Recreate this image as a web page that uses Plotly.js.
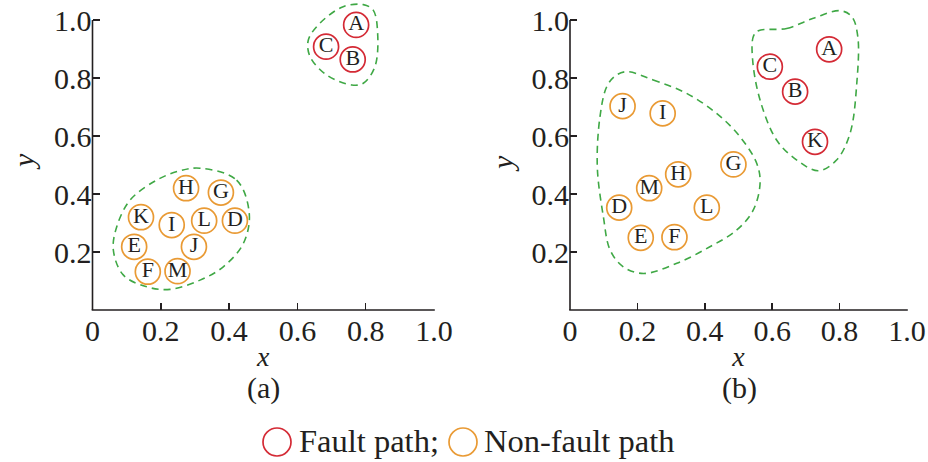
<!DOCTYPE html>
<html>
<head>
<meta charset="utf-8">
<script src="https://cdn.plot.ly/plotly-3.0.1.min.js"></script>
<style>html,body{margin:0;padding:0;background:#fff;}#chart{width:928px;height:462px;}</style>
</head>
<body>
<div id="chart"></div>
<script>
// ---------- data: panel (a) ----------
const faultLabelsA = ['A', 'B', 'C'];
const faultXA = [0.772, 0.762, 0.684];
const faultYA = [0.983, 0.864, 0.908];
const normalLabelsA = ['D', 'E', 'F', 'G', 'H', 'I', 'J', 'K', 'L', 'M'];
const normalXA = [0.417, 0.122, 0.162, 0.376, 0.274, 0.232, 0.297, 0.142, 0.327, 0.249];
const normalYA = [0.308, 0.218, 0.132, 0.405, 0.420, 0.293, 0.218, 0.320, 0.308, 0.134];
// cluster boundaries (a)
const boundFaultXA = [0.822, 0.835, 0.827, 0.793, 0.759, 0.686, 0.637, 0.632, 0.666, 0.734, 0.793, 0.822];
const boundFaultYA = [1.034, 0.954, 0.839, 0.782, 0.776, 0.810, 0.874, 0.931, 0.989, 1.046, 1.053, 1.034];
const boundNormalXA = [0.315, 0.422, 0.459, 0.442, 0.383, 0.315, 0.227, 0.159, 0.090, 0.061, 0.071, 0.110, 0.188, 0.256, 0.315];
const boundNormalYA = [0.489, 0.448, 0.333, 0.230, 0.149, 0.103, 0.071, 0.080, 0.121, 0.207, 0.287, 0.379, 0.448, 0.480, 0.489];

// ---------- data: panel (b) ----------
const faultLabelsB = ['A', 'B', 'C', 'K'];
const faultXB = [0.769, 0.668, 0.593, 0.727];
const faultYB = [0.899, 0.753, 0.839, 0.580];
const normalLabelsB = ['D', 'E', 'F', 'G', 'H', 'I', 'J', 'L', 'M'];
const normalXB = [0.146, 0.210, 0.310, 0.485, 0.321, 0.275, 0.156, 0.406, 0.235];
const normalYB = [0.353, 0.249, 0.251, 0.502, 0.468, 0.678, 0.703, 0.353, 0.420];
// cluster boundaries (b)
const boundFaultXB = [0.559, 0.643, 0.722, 0.801, 0.836, 0.854, 0.851, 0.831, 0.791, 0.737, 0.673, 0.613, 0.564, 0.542, 0.544, 0.559];
const boundFaultYB = [0.963, 0.971, 1.006, 1.032, 1.012, 0.943, 0.782, 0.609, 0.517, 0.480, 0.517, 0.586, 0.724, 0.862, 0.943, 0.963];
const boundNormalXB = [0.168, 0.247, 0.346, 0.435, 0.504, 0.554, 0.564, 0.544, 0.495, 0.415, 0.317, 0.218, 0.158, 0.119, 0.099, 0.081, 0.089, 0.109, 0.134, 0.168];
const boundNormalYB = [0.822, 0.793, 0.747, 0.678, 0.598, 0.506, 0.437, 0.345, 0.276, 0.218, 0.161, 0.126, 0.149, 0.207, 0.322, 0.494, 0.667, 0.770, 0.807, 0.822];

// ---------- tick labels / texts ----------
const xTickVals = [0, 0.2, 0.4, 0.6, 0.8, 1.0];
const xTickText = ['0', '0.2', '0.4', '0.6', '0.8', '1.0'];
const yTickVals = [0.2, 0.4, 0.6, 0.8, 1.0];
const yTickText = ['0.2', '0.4', '0.6', '0.8', '1.0'];
const xTitle = 'x';
const yTitle = 'y';
const panelLabels = ['(a)', '(b)'];
const legendNames = ['Fault path;', 'Non-fault path'];

// ---------- styles ----------
const FONT = '"Liberation Serif", "Times New Roman", serif';
const TXT = '#231f20';
const RED = '#d42a35';
const ORANGE = '#e99a34';
const GREEN = '#3fa845';

function pts(x, y, labels, color, xa, ya, name) {
  return {
    type: 'scatter', mode: 'markers+text', x: x, y: y, text: labels, name: name,
    xaxis: xa, yaxis: ya, showlegend: false, cliponaxis: false,
    textposition: 'middle center',
    textfont: {family: FONT, size: 22, color: TXT},
    marker: {symbol: 'circle-open', size: 25, color: color, line: {width: 1.7, color: color}}
  };
}
function bound(x, y, xa, ya) {
  return {
    type: 'scatter', mode: 'lines', x: x, y: y, xaxis: xa, yaxis: ya, showlegend: false,
    line: {color: GREEN, width: 1.6, dash: '7px,5px', shape: 'spline', smoothing: 1.0},
    hoverinfo: 'skip'
  };
}

const data = [
  bound(boundFaultXA, boundFaultYA, 'x', 'y'),
  bound(boundNormalXA, boundNormalYA, 'x', 'y'),
  pts(faultXA, faultYA, faultLabelsA, RED, 'x', 'y', legendNames[0]),
  pts(normalXA, normalYA, normalLabelsA, ORANGE, 'x', 'y', legendNames[1]),
  bound(boundFaultXB, boundFaultYB, 'x2', 'y2'),
  bound(boundNormalXB, boundNormalYB, 'x2', 'y2'),
  pts(faultXB, faultYB, faultLabelsB, RED, 'x2', 'y2', legendNames[0]),
  pts(normalXB, normalYB, normalLabelsB, ORANGE, 'x2', 'y2', legendNames[1])
];

const W = 928, H = 462;
const yDom = [1 - 310 / H, 1 - 1.15 / H];
const xDomA = [92.5 / W, 434 / W];
const xDomB = [570 / W, 907 / W];

function xAxis(dom, anchor) {
  return {
    domain: dom, anchor: anchor, range: [0, 1], showgrid: false, zeroline: false,
    showline: false, ticks: 'inside', ticklen: 7, tickwidth: 1.5, tickcolor: TXT,
    tickvals: xTickVals, ticktext: xTickText,
    tickfont: {family: FONT, size: 30, color: TXT},
    title: {text: '<i>' + xTitle + '</i>', font: {family: FONT, size: 28, color: TXT}, standoff: 0}
  };
}
function yAxis(anchor) {
  return {
    domain: yDom, anchor: anchor, range: [0, 1.065], showgrid: false, zeroline: false,
    showline: false, ticks: 'inside', ticklen: 7, tickwidth: 1.5, tickcolor: TXT,
    tickvals: yTickVals, ticktext: yTickText,
    tickfont: {family: FONT, size: 30, color: TXT}
  };
}

const axisLine = {color: TXT, width: 1.6};
const shapes = [
  // y axis lines (stop at 1.0)
  {type: 'line', xref: 'paper', yref: 'y', x0: xDomA[0], x1: xDomA[0], y0: 0, y1: 1, line: axisLine},
  {type: 'line', xref: 'paper', yref: 'y2', x0: xDomB[0], x1: xDomB[0], y0: 0, y1: 1, line: axisLine},
  // x axis lines
  {type: 'line', xref: 'paper', yref: 'paper', x0: xDomA[0] - 0.8 / W, x1: xDomA[1] + 0.8 / W, y0: yDom[0], y1: yDom[0], line: axisLine},
  {type: 'line', xref: 'paper', yref: 'paper', x0: xDomB[0] - 0.8 / W, x1: xDomB[1] + 0.8 / W, y0: yDom[0], y1: yDom[0], line: axisLine},
  // legend symbols
  {type: 'circle', xref: 'paper', yref: 'paper', xsizemode: 'pixel', ysizemode: 'pixel',
   xanchor: 277 / W, yanchor: 1 - 442 / H, x0: -14, x1: 14, y0: -14, y1: 14,
   line: {color: RED, width: 1.7}},
  {type: 'circle', xref: 'paper', yref: 'paper', xsizemode: 'pixel', ysizemode: 'pixel',
   xanchor: 463 / W, yanchor: 1 - 442 / H, x0: -14, x1: 14, y0: -14, y1: 14,
   line: {color: ORANGE, width: 1.7}}
];

function ann(text, px, py, size, extra) {
  return Object.assign({text: text, xref: 'paper', yref: 'paper', x: px / W, y: 1 - py / H,
    showarrow: false, xanchor: 'center', yanchor: 'middle',
    font: {family: FONT, size: size, color: TXT}}, extra || {});
}
const annotations = [
  ann('<i>' + yTitle + '</i>', 23, 162, 30, {textangle: -90}),
  ann('<i>' + yTitle + '</i>', 502, 164, 30, {textangle: -90}),
  ann(panelLabels[0], 263, 388, 30),
  ann(panelLabels[1], 739, 388, 30),
  ann(legendNames[0], 297, 441, 32.5, {xanchor: 'left'}),
  ann(legendNames[1], 482, 441, 32.5, {xanchor: 'left'})
];

const layout = {
  width: W, height: H, margin: {l: 0, r: 0, t: 0, b: 0},
  paper_bgcolor: '#ffffff', plot_bgcolor: '#ffffff', showlegend: false,
  font: {family: FONT, color: TXT},
  xaxis: xAxis(xDomA, 'y'), yaxis: yAxis('x'),
  xaxis2: xAxis(xDomB, 'y2'), yaxis2: yAxis('x2'),
  shapes: shapes, annotations: annotations
};

Plotly.newPlot('chart', data, layout, {displayModeBar: false, staticPlot: true});
</script>
</body>
</html>
